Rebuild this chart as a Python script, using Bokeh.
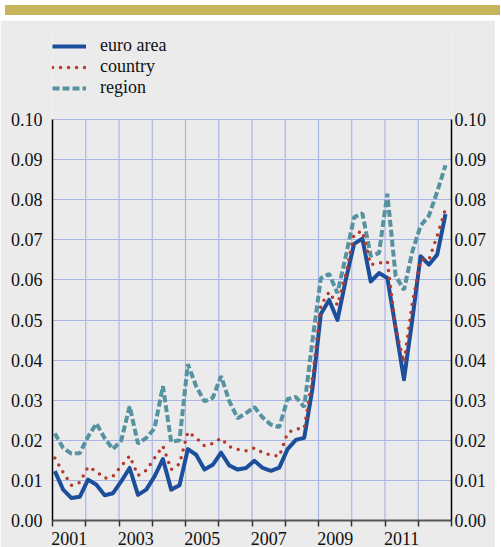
from bokeh.plotting import figure
from bokeh.models import (Range1d, LinearAxis, FixedTicker, NumeralTickFormatter,
                          Legend, LegendItem, Div)
from bokeh.layouts import column
from bokeh.embed import file_html
from bokeh.resources import INLINE

# ---------------- data (quarterly, 2001Q1 .. 2012Q4) ----------------
years = list(range(2001, 2013))
quarters = [f"{y}Q{q}" for y in years for q in range(1, 5)]

euro_area = [
    0.0123, 0.0077, 0.0056, 0.0059,
    0.0102, 0.0089, 0.0063, 0.0068,
    0.0098, 0.0131, 0.0064, 0.0077,
    0.0110, 0.0153, 0.0077, 0.0088,
    0.0178, 0.0164, 0.0127, 0.0139,
    0.0169, 0.0137, 0.0127, 0.0131,
    0.0149, 0.0131, 0.0124, 0.0132,
    0.0178, 0.0201, 0.0206, 0.0330,
    0.0515, 0.0550, 0.0500, 0.0600,
    0.0690, 0.0703, 0.0596, 0.0617,
    0.0605, 0.0480, 0.0352, 0.0500,
    0.0659, 0.0638, 0.0663, 0.0764,
]
country = [
    0.0156, 0.0120, 0.0088, 0.0095,
    0.0134, 0.0122, 0.0105, 0.0110,
    0.0136, 0.0161, 0.0112, 0.0125,
    0.0156, 0.0186, 0.0127, 0.0141,
    0.0221, 0.0206, 0.0186, 0.0192,
    0.0205, 0.0184, 0.0177, 0.0174,
    0.0181, 0.0169, 0.0163, 0.0160,
    0.0219, 0.0228, 0.0230, 0.0356,
    0.0537, 0.0570, 0.0537, 0.0613,
    0.0714, 0.0722, 0.0638, 0.0642,
    0.0646, 0.0480, 0.0394, 0.0541,
    0.0650, 0.0650, 0.0710, 0.0777,
]
region = [
    0.0217, 0.0181, 0.0167, 0.0168,
    0.0209, 0.0242, 0.0205, 0.0178,
    0.0200, 0.0285, 0.0192, 0.0206,
    0.0230, 0.0335, 0.0196, 0.0200,
    0.0390, 0.0335, 0.0297, 0.0306,
    0.0360, 0.0297, 0.0255, 0.0268,
    0.0283, 0.0257, 0.0239, 0.0233,
    0.0303, 0.0308, 0.0283, 0.0450,
    0.0604, 0.0615, 0.0567, 0.0659,
    0.0756, 0.0766, 0.0660, 0.0667,
    0.0815, 0.0610, 0.0575, 0.0670,
    0.0735, 0.0760, 0.0820, 0.0886,
]
year_labels = [2001, 2003, 2005, 2007, 2009, 2011]
y_ticks = [0.00, 0.01, 0.02, 0.03, 0.04, 0.05, 0.06, 0.07, 0.08, 0.09, 0.10]

# ---------------- styling ----------------
BG = "#ebebeb"
GOLD = "#c8b45b"
GRID = "#aab5e6"
BLUE = "#1b4f9c"
RED = "#b53a2d"
TEAL = "#5692a0"
FONT = "Liberation Serif"
W = 495

# year interval for year Y spans [Y-0.5, Y+0.5]; quarter positions inside it
x = [y - 0.5 + (q + 0.28) / 4 for y in years for q in range(4)]
boundaries = [y - 0.5 for y in years] + [years[-1] + 0.5]
y_top = y_ticks[-1]
# extra head-room above the top tick (room for the legend, inside the frame)
y_view_top = y_top * 1.222

p = figure(width=W, height=527,
           x_range=Range1d(years[0] - 0.5, years[-1] + 0.5),
           y_range=Range1d(0, y_view_top),
           output_backend="svg", toolbar_location=None,
           min_border_left=52, min_border_right=44,
           min_border_top=10, min_border_bottom=27,
           background_fill_color=BG, border_fill_color=BG,
           outline_line_color=None)

# grids
p.xgrid.visible = False
p.ygrid.ticker = FixedTicker(ticks=y_ticks)
p.ygrid.grid_line_color = GRID
p.ygrid.grid_line_width = 1.2
p.segment(x0=boundaries[1:-1], x1=boundaries[1:-1], y0=0, y1=y_top,
          line_color=GRID, line_width=1.2)

# x axis
xa = p.xaxis[0]
xa.ticker = FixedTicker(ticks=year_labels, minor_ticks=boundaries)
xa.major_tick_out = 0
xa.major_tick_in = 0
xa.minor_tick_out = 6
xa.minor_tick_in = 0
xa.minor_tick_line_color = "#333333"
xa.minor_tick_line_width = 1.5
xa.axis_line_color = "#555555"
xa.axis_line_width = 2
xa.major_label_text_font = FONT
xa.major_label_text_font_size = "18px"
xa.major_label_text_color = "#111111"
xa.major_label_standoff = 5

def style_y(ax, standoff):
    ax.ticker = FixedTicker(ticks=y_ticks)
    ax.formatter = NumeralTickFormatter(format="0.00")
    ax.bounds = (0, y_top)
    ax.major_tick_out = 0
    ax.major_tick_in = 0
    ax.minor_tick_out = 0
    ax.minor_tick_in = 0
    ax.axis_line_color = "#000000"
    ax.axis_line_width = 1.5
    ax.major_label_text_font = FONT
    ax.major_label_text_font_size = "18px"
    ax.major_label_text_color = "#111111"
    ax.major_label_standoff = standoff

style_y(p.yaxis[0], 10)
ry = LinearAxis()
style_y(ry, 3)
p.add_layout(ry, "right")

# series
r_region = p.line(x, region, line_color=TEAL, line_width=4, line_dash="7 3")
r_euro = p.line(x, euro_area, line_color=BLUE, line_width=4, line_join="round")
r_country = p.line(x, country, line_color=RED, line_width=3.5,
                   line_dash="0 8", line_cap="round")

legend = Legend(items=[LegendItem(label="euro area", renderers=[r_euro]),
                       LegendItem(label="country", renderers=[r_country]),
                       LegendItem(label="region", renderers=[r_region])],
                location=(0, 422), padding=0, margin=0, spacing=0,
                glyph_width=34, glyph_height=18, label_height=18,
                label_standoff=14, border_line_color=None,
                background_fill_alpha=0,
                label_text_font=FONT, label_text_font_size="18px",
                label_text_color="#111111")
p.add_layout(legend, "center")

band = Div(width=W, height=10, styles={"background-color": GOLD})
layout = column(band, p, spacing=0)

open("out.html", "w").write(file_html(layout, INLINE))
